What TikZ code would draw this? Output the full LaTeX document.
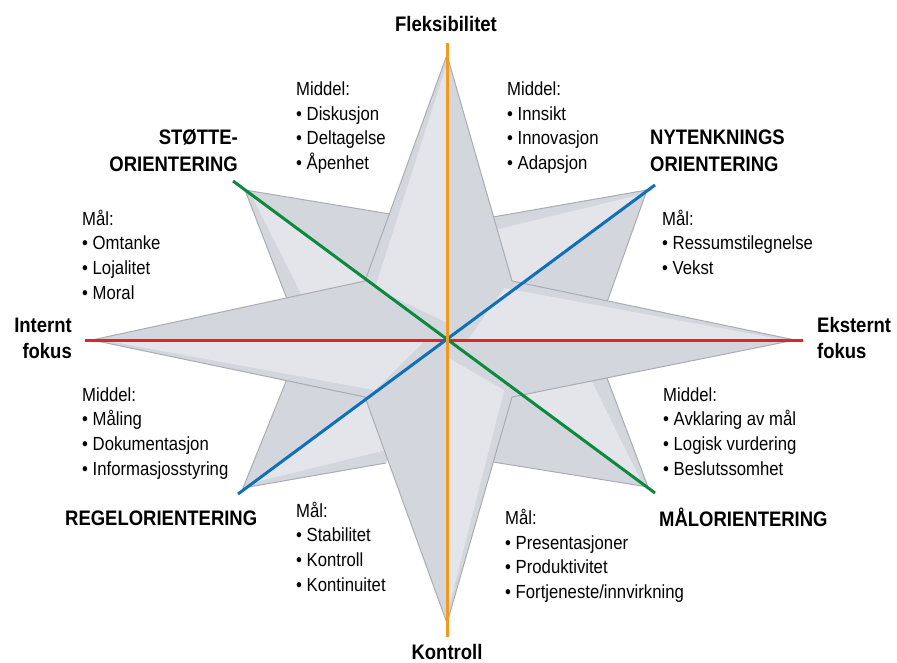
\documentclass[tikz,border=0pt]{standalone}
\usepackage{fontspec}
\setmainfont{Liberation Sans}[FakeStretch=0.88]
\usetikzlibrary{calc}

\definecolor{armdark}{HTML}{D3D6DD}
\definecolor{armlight}{HTML}{E3E5EA}
\definecolor{armedge}{HTML}{A9ACB3}
\definecolor{axorange}{HTML}{F39A1E}
\definecolor{axred}{HTML}{E8202A}
\definecolor{axgreen}{HTML}{0B8A3E}
\definecolor{axblue}{HTML}{0F6FB7}

\tikzset{
	armfill/.style={
		fill=armdark,
	},
	armbevel/.style={
		fill=armlight,
	},
	armline/.style={
		draw=armedge,
		line width=1pt,
		line join=miter,
	},
	axisline/.style={
		line width=3pt,
	},
	heading/.style={
		font=\bfseries\fontsize{21}{27}\selectfont,
		inner sep=0pt,
	},
	list/.style={
		font=\fontsize{19}{24.7}\selectfont,
		align=left,
		anchor=base west,
		inner sep=0pt,
	},
}

\begin{document}
\begin{tikzpicture}[
		x=1pt, y=-1pt,
		heading/.append style={anchor=base},
	]
		\useasboundingbox (0,0) rectangle (897,663);

		\coordinate (o) at (447,340);

		% front star
		\coordinate (tn) at (447,55);
		\coordinate (ts) at (447,623);
		\coordinate (tw) at (92,340);
		\coordinate (te) at (795,340);
		\coordinate (inw) at (365,281);
		\coordinate (ine) at (512,281);
		\coordinate (isw) at (365,397);
		\coordinate (ise) at (512,397);

		% back star
		\coordinate (tnw) at (245,190);
		\coordinate (anw) at (390,214);
		\coordinate (bnw) at (287,299);
		\coordinate (tne) at (647,190);
		\coordinate (ane) at (607,302);
		\coordinate (bne) at (493,217);
		\coordinate (tsw) at (243,488);
		\coordinate (asw) at (287,379);
		\coordinate (bsw) at (386,463);
		\coordinate (tse) at (648,487);
		\coordinate (ase) at (493,462);
		\coordinate (bse) at (607,378);

		\foreach \t/\a/\b in {tnw/anw/bnw, tne/ane/bne, tsw/asw/bsw, tse/ase/bse,
				tn/ine/inw, tw/inw/isw, ts/isw/ise, te/ise/ine} {
			\fill[armfill] (o) -- (\t) -- (\a) -- cycle;
			\fill[armfill] (o) -- (\t) -- (\b) -- cycle;
			\fill[armbevel] ($(o)!0.06!(\t)$) -- ($(\t)!0.03!(o)$) -- ($(\b)!0.12!(o)$) -- cycle;
			\draw[armline] (\b) -- (\t) -- (\a);
		}

		% axes
		\coordinate (redw) at (85,340);
		\coordinate (rede) at (803,340);
		\coordinate (orn) at (447,43);
		\coordinate (ors) at (447,637);
		\coordinate (grnw) at (233,181);
		\coordinate (grse) at (655,493);
		\coordinate (blsw) at (238,494);
		\coordinate (blne) at (655,185);

		\draw[axisline, axred] 		(redw) -- (rede);
		\draw[axisline, axgreen] 	(grnw) -- (grse);
		\draw[axisline, axblue] 	(blsw) -- (blne);
		\draw[axisline, axorange] 	(orn) -- (ors);

		% labels (multi-line nodes sit on their last line)
		\node[heading] 			(flex) at (446,32) {Fleksibilitet};
		\node[heading] 			(kontroll) at (447,659) {Kontroll};
		\node[heading, align=right, anchor=base east] 	(stotte) at (238,172) {STØTTE-\\ORIENTERING};
		\node[heading, align=left, anchor=base west] 	(nytenk) at (650,172) {NYTENKNINGS\\ORIENTERING};
		\node[heading, align=right, anchor=base east, font=\bfseries\fontsize{21}{26}\selectfont] 	(internt) at (72,358) {Internt\\fokus};
		\node[heading, align=left, anchor=base west, font=\bfseries\fontsize{21}{26}\selectfont] 	(eksternt) at (817,358) {Eksternt\\fokus};
		\node[heading, anchor=base west] 	(regel) at (65,525) {REGELORIENTERING};
		\node[heading, anchor=base west] 	(malor) at (659,526) {MÅLORIENTERING};

		\node[list] 	(midnw) at (296,169.6) {Middel:\\• Diskusjon\\• Deltagelse\\• Åpenhet};
		\node[list] 	(midne) at (507,169.6) {Middel:\\• Innsikt\\• Innovasjon\\• Adapsjon};
		\node[list] 	(malnw) at (82,299.1) {Mål:\\• Omtanke\\• Lojalitet\\• Moral};
		\node[list] 	(malne) at (662,274.4) {Mål:\\• Ressumstilegnelse\\• Vekst};
		\node[list] 	(midsw) at (82,475.1) {Middel:\\• Måling\\• Dokumentasjon\\• Informasjosstyring};
		\node[list] 	(midse) at (663,475.1) {Middel:\\• Avklaring av mål\\• Logisk vurdering\\• Beslutssomhet};
		\node[list] 	(malsw) at (296,591.1) {Mål:\\• Stabilitet\\• Kontroll\\• Kontinuitet};
		\node[list] 	(malse) at (505,598.6) {Mål:\\• Presentasjoner\\• Produktivitet\\• Fortjeneste/innvirkning};

	\end{tikzpicture}
\end{document}
